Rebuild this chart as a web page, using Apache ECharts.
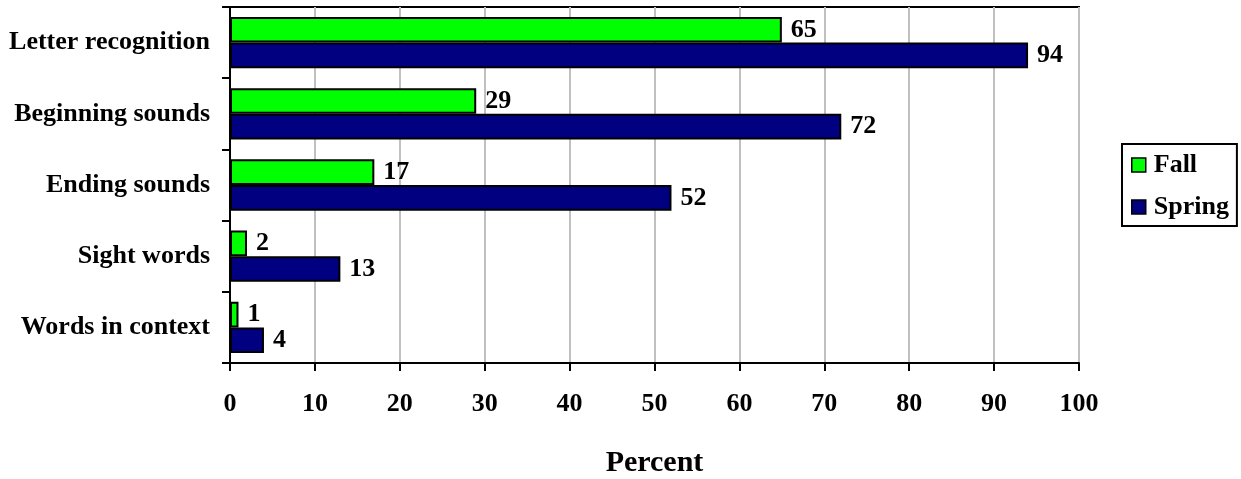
<!DOCTYPE html>
<html>
<head>
<meta charset="utf-8">
<script src="https://cdn.jsdelivr.net/npm/echarts@6/dist/echarts.min.js"></script>
<style>
  html, body { margin: 0; padding: 0; background: #fff; }
  #chart { width: 1241px; height: 479px; }
</style>
</head>
<body>
<div id="chart"></div>
<script>
// Early literacy skills: percent of students proficient, fall vs spring
const categories = ['Letter recognition', 'Beginning sounds', 'Ending sounds', 'Sight words', 'Words in context'];
const fallValues = [65, 29, 17, 2, 1];
const springValues = [94, 72, 52, 13, 4];
const xTicks = [0, 10, 20, 30, 40, 50, 60, 70, 80, 90, 100];

const FONT = '"Liberation Serif", "Times New Roman", serif';

const chart = echarts.init(document.getElementById('chart'), null, { renderer: 'canvas' });

const labelStyle = {
  show: true,
  position: 'right',
  distance: 9,
  padding: [4, 0, 0, 0],
  color: '#000',
  fontFamily: FONT,
  fontWeight: 'bold',
  fontSize: 26
};

chart.setOption({
  animation: false,
  backgroundColor: '#fff',
  grid: {
    left: 230, right: 162, top: 7, bottom: 116,
    outerBoundsMode: 'none',
    containLabel: false,
    show: true,
    borderColor: '#000',
    borderWidth: 2,
    backgroundColor: 'transparent'
  },
  legend: {
    orient: 'vertical',
    left: 1122,
    top: 144,
    padding: [8, 8, 6, 9],
    itemGap: 16,
    itemWidth: 14,
    itemHeight: 14,
    icon: 'rect',
    backgroundColor: '#fff',
    borderColor: '#000',
    borderWidth: 2,
    textStyle: { fontFamily: FONT, fontWeight: 'bold', fontSize: 26, color: '#000', padding: [0, 0, 0, 3] },
    itemStyle: { borderColor: '#000', borderWidth: 1.5 },
    data: ['Fall', 'Spring']
  },
  xAxis: {
    type: 'value',
    min: 0,
    max: 100,
    interval: 10,
    name: 'Percent',
    nameLocation: 'middle',
    nameGap: 85,
    nameTextStyle: { fontFamily: FONT, fontWeight: 'bold', fontSize: 30, color: '#000', verticalAlign: 'top' },
    axisLine: { show: true, lineStyle: { color: '#000', width: 2 } },
    axisTick: { show: true, length: 8, lineStyle: { color: '#000', width: 2 } },
    axisLabel: {
      margin: 28,
      fontFamily: FONT, fontWeight: 'bold', fontSize: 26, color: '#000',
      formatter: v => xTicks.includes(v) ? String(v) : ''
    },
    splitLine: { show: true, lineStyle: { color: '#c0c0c0', width: 2 } }
  },
  yAxis: {
    type: 'category',
    inverse: true,
    data: categories,
    axisLine: { show: true, lineStyle: { color: '#000', width: 2 } },
    axisTick: { show: true, length: 8, alignWithLabel: false, lineStyle: { color: '#000', width: 2 } },
    axisLabel: { margin: 20, padding: [6, 0, 0, 0], fontFamily: FONT, fontWeight: 'bold', fontSize: 26, color: '#000' },
    splitLine: { show: false }
  },
  series: [
    {
      name: 'Fall',
      type: 'bar',
      data: fallValues,
      barGap: '0%',
      barCategoryGap: '28%',
      itemStyle: { color: '#00ff00', borderColor: '#000', borderWidth: 2 },
      label: labelStyle
    },
    {
      name: 'Spring',
      type: 'bar',
      data: springValues,
      barGap: '0%',
      barCategoryGap: '28%',
      itemStyle: { color: '#000080', borderColor: '#000', borderWidth: 2 },
      label: labelStyle
    }
  ]
});
</script>
</body>
</html>
